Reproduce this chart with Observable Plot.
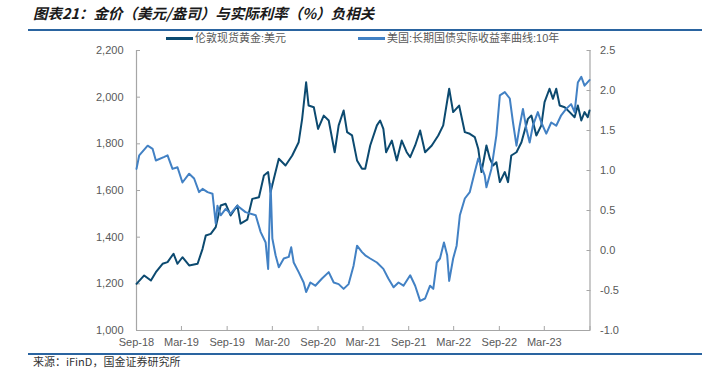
<!DOCTYPE html>
<html><head><meta charset="utf-8">
<script src="https://cdn.jsdelivr.net/npm/d3@7"></script>
<script src="https://cdn.jsdelivr.net/npm/@observablehq/plot@0.6"></script>
<style>
body{margin:0;background:#fff;}
#wrap{position:relative;width:712px;height:369px;overflow:hidden;font-family:"Liberation Sans","Noto Sans CJK SC",sans-serif;}
#title{position:absolute;left:33px;top:3px;font-family:"Noto Sans CJK SC",sans-serif;font-size:14.5px;font-weight:bold;font-style:italic;color:#1a1a1a;line-height:20px;}
.rule{position:absolute;left:28px;width:674px;height:2px;background:#2a64a0;}
#legend{position:absolute;top:31px;left:0;width:712px;height:14px;font-size:11px;color:#595959;}
.li{position:absolute;top:0;display:flex;align-items:center;white-space:nowrap;line-height:14px;}
.sw{display:inline-block;width:27px;height:3px;margin-right:2px;}
#chart{position:absolute;left:0;top:44px;}
#source{position:absolute;left:33px;top:355px;font-size:11px;line-height:13px;color:#333;font-family:"Noto Sans CJK SC",sans-serif;}
</style></head>
<body>
<div id="wrap">
  <div id="title">图表21：金价（美元/盎司）与实际利率（%）负相关</div>
  <div class="rule" style="top:29px"></div>
  <div id="legend"></div>
  <div id="chart"></div>
  <div class="rule" style="top:353px"></div>
  <div id="source">来源：iFinD，国金证券研究所</div>
</div>
<script>
const seriesNames = ["伦敦现货黄金:美元", "美国:长期国债实际收益率曲线:10年"];
const seriesColors = ["#0c4a70", "#4281c4"];

const goldDates = ["2018-09-01","2018-10-02","2018-10-29","2018-11-18","2018-12-15",
"2019-01-04","2019-01-28","2019-02-13","2019-03-05","2019-04-01","2019-05-05","2019-05-25","2019-06-07","2019-06-27","2019-07-17","2019-08-06","2019-08-26","2019-09-15","2019-10-12","2019-10-25","2019-11-21","2019-12-11",
"2020-01-07","2020-01-27","2020-02-13","2020-02-23","2020-03-07","2020-03-27","2020-04-23","2020-05-20","2020-06-15","2020-06-29","2020-07-15","2020-07-25","2020-08-15","2020-09-01","2020-09-24","2020-10-14","2020-11-07","2020-11-23","2020-12-13","2020-12-27",
"2021-01-16","2021-02-05","2021-02-25","2021-03-10","2021-03-30","2021-04-26","2021-05-09","2021-05-22","2021-06-02","2021-06-25","2021-07-15","2021-08-04","2021-08-24","2021-09-07","2021-09-27","2021-10-17","2021-11-06","2021-12-03","2021-12-29",
"2022-01-18","2022-02-11","2022-02-27","2022-03-23","2022-04-15","2022-05-05","2022-05-25","2022-06-08","2022-06-21","2022-07-11","2022-07-25","2022-08-07","2022-08-20","2022-09-03","2022-09-23","2022-10-06","2022-10-19","2022-11-09","2022-11-29","2022-12-25",
"2023-01-08","2023-01-28","2023-02-17","2023-03-02","2023-03-22","2023-04-05","2023-04-18","2023-05-02","2023-05-22","2023-06-11","2023-07-01","2023-07-14","2023-07-28","2023-08-10","2023-08-23","2023-08-30"];
const goldValues = [1200,1236,1214,1250,1286,
1293,1329,1286,1314,1279,1286,1350,1407,1414,1443,1536,1543,1493,1536,1458,1475,1564,
1571,1664,1679,1593,1650,1736,1707,1750,1807,1907,2064,1964,1957,1864,1921,1900,1764,1879,1943,1850,
1836,1729,1693,1693,1793,1879,1900,1864,1764,1814,1729,1814,1764,1743,1793,1857,1764,1793,1836,
1879,2036,1936,1964,1850,1843,1829,1779,1679,1793,1736,1707,1721,1636,1679,1636,1750,1764,1807,1907,
1921,1836,1879,1979,2036,1993,2036,1964,1957,1936,1914,1964,1900,1936,1914,1943];

const yieldDates = ["2018-09-01","2018-09-12","2018-10-16","2018-11-05","2018-11-18","2018-12-22",
"2019-01-04","2019-01-24","2019-02-13","2019-03-05","2019-04-01","2019-04-21","2019-05-11","2019-05-25","2019-06-14","2019-07-04","2019-07-17","2019-07-24","2019-08-06","2019-08-26","2019-09-15","2019-10-12","2019-11-14","2019-12-25",
"2020-01-14","2020-02-03","2020-02-13","2020-02-23","2020-03-01","2020-03-14","2020-03-27","2020-04-16","2020-05-06","2020-05-16","2020-05-26","2020-06-15","2020-07-05","2020-07-15","2020-08-01","2020-08-21","2020-09-17","2020-10-14","2020-11-03","2020-11-23","2020-12-13",
"2021-01-02","2021-01-22","2021-02-05","2021-02-25","2021-03-10","2021-03-30","2021-04-26","2021-05-22","2021-06-11","2021-07-02","2021-07-22","2021-08-11","2021-09-07","2021-09-27","2021-10-17","2021-11-06","2021-11-26","2021-12-09","2021-12-23",
"2022-01-05","2022-01-21","2022-02-03","2022-02-11","2022-02-27","2022-03-13","2022-03-26","2022-04-15","2022-05-05","2022-05-25","2022-06-08","2022-07-04","2022-07-11","2022-07-31","2022-08-20","2022-09-03","2022-09-23","2022-10-13","2022-10-26","2022-11-09","2022-11-22","2022-12-05","2022-12-19",
"2023-01-01","2023-01-14","2023-02-03","2023-02-17","2023-03-09","2023-03-29","2023-04-18","2023-05-08","2023-05-28","2023-06-17","2023-07-01","2023-07-14","2023-07-28","2023-08-10","2023-08-30"];
const yieldValues = [1.02,1.19,1.31,1.27,1.125,1.17,
1.19,1.02,1.04,0.85,0.96,0.90,0.73,0.77,0.73,0.71,0.34,0.56,0.44,0.52,0.46,0.56,0.48,0.44,
0.23,0.10,-0.23,0.83,0.15,-0.06,-0.21,-0.10,-0.08,0.04,-0.15,-0.27,-0.40,-0.52,-0.40,-0.44,-0.35,-0.27,-0.40,-0.42,-0.48,
-0.42,-0.19,0.06,-0.02,-0.06,-0.10,-0.15,-0.23,-0.35,-0.46,-0.40,-0.44,-0.31,-0.44,-0.63,-0.60,-0.44,-0.48,-0.15,
-0.10,0.10,-0.06,-0.38,-0.10,0.06,0.44,0.65,0.73,0.98,1.15,0.94,0.79,1.02,1.44,1.94,1.98,1.90,1.60,1.31,1.56,1.77,1.52,
1.35,1.56,1.73,1.60,1.46,1.60,1.56,1.69,1.77,1.83,1.73,2.10,2.17,2.06,2.13];

const goldTicks = [1000,1200,1400,1600,1800,2000,2200];
const yieldTicks = [-1.0,-0.5,0.0,0.5,1.0,1.5,2.0,2.5];
const xTickDates = ["2018-09-01","2019-03-01","2019-09-01","2020-03-01","2020-09-01","2021-03-01","2021-09-01","2022-03-01","2022-09-01","2023-03-01","2023-09-01"];
const xTickLabels = ["Sep-18","Mar-19","Sep-19","Mar-20","Sep-20","Mar-21","Sep-21","Mar-22","Sep-22","Mar-23",""];

// legend
const leg = document.getElementById("legend");
[[166, 0],[358, 1]].forEach(([left, i]) => {
  const d = document.createElement("div");
  d.className = "li"; d.style.left = left + "px";
  d.innerHTML = `<span class="sw" style="background:${seriesColors[i]}"></span><span>${seriesNames[i]}</span>`;
  leg.appendChild(d);
});

const parse = d3.utcParse("%Y-%m-%d");
const gold = goldDates.map((d, i) => ({date: parse(d), value: goldValues[i]}));
const yld = yieldDates.map((d, i) => ({date: parse(d), value: yieldValues[i]}));

// secondary axis mapping: yield [-1, 2.5] -> gold scale [1000, 2200]
const yDom = [yieldTicks[0], yieldTicks[yieldTicks.length - 1]];
const gDom = [goldTicks[0], goldTicks[goldTicks.length - 1]];
const toG = v => gDom[0] + (v - yDom[0]) * (gDom[1] - gDom[0]) / (yDom[1] - yDom[0]);
const yLabel = new Map(yieldTicks.map(v => [toG(v), v.toFixed(1)]));
const xDates = xTickDates.map(parse);
const xLabel = new Map(xDates.map((d, i) => [+d, xTickLabels[i]]));
const xDom = [xDates[0], xDates[xDates.length - 1]];

const axisColor = "#a6a6a6";
const chart = Plot.plot({
  width: 712, height: 306,
  marginLeft: 136, marginRight: 122.5, marginTop: 6, marginBottom: 20,
  style: {fontFamily: "'Liberation Sans', Arial, sans-serif", fontSize: "11px", color: "#595959", background: "transparent"},
  x: {type: "utc", domain: xDom},
  y: {domain: gDom},
  marks: [
    Plot.ruleX([xDom[0], xDom[1]], {stroke: axisColor, strokeWidth: 1.2}),
    Plot.ruleY([gDom[0]], {stroke: axisColor, strokeWidth: 1.2}),
    Plot.axisY(goldTicks, {anchor: "left", tickSize: -4, tickPadding: 17, stroke: axisColor, fill: "#595959", tickFormat: d3.format(","), label: null}),
    Plot.axisY(yieldTicks.map(toG), {anchor: "right", tickSize: -4, tickPadding: 14, stroke: axisColor, fill: "#595959", tickFormat: d => yLabel.get(d) ?? "", label: null}),
    Plot.axisX(xDates, {anchor: "bottom", tickSize: -4, tickPadding: 11.5, stroke: axisColor, fill: "#595959", tickFormat: d => xLabel.get(+d) ?? "", label: null}),
    Plot.line(gold, {x: "date", y: "value", stroke: seriesColors[0], strokeWidth: 2}),
    Plot.line(yld, {x: "date", y: d => toG(d.value), stroke: seriesColors[1], strokeWidth: 2})
  ]
});
document.getElementById("chart").appendChild(chart);
</script>
</body></html>
